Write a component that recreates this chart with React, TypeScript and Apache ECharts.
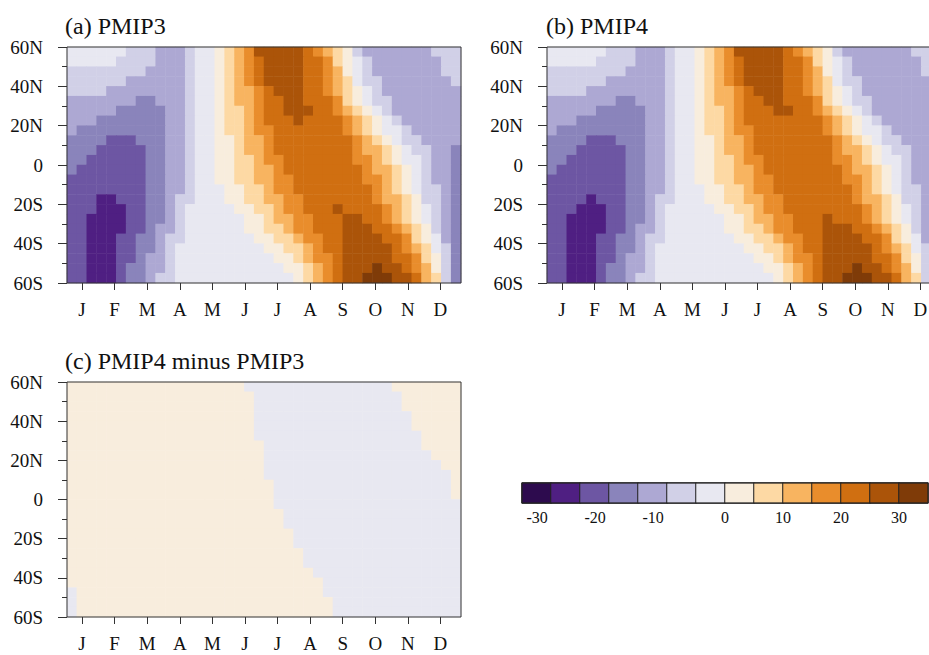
import React, { useEffect, useRef } from 'react';
import * as echarts from 'echarts';

// ---------- data ----------
const MONTHS = ['J', 'F', 'M', 'A', 'M', 'J', 'J', 'A', 'S', 'O', 'N', 'D'];
const MONTH_POS = [1, 2, 3, 4, 5, 6, 7, 8, 9, 10, 11, 12];
const LEVELS = [-30, -25, -20, -15, -10, -5, 0, 5, 10, 15, 20, 25, 30];
const BAND_COLORS = [
  '#2d0b4e', '#4f1f82', '#6d56a3', '#8a84bb', '#ada8d3', '#d1d0e7', '#e8e8f1',
  '#f8eddd', '#fdd9a4', '#f8b460', '#e98d2c', '#d06f11', '#ab5409', '#7f3b08',
];
const CBAR_LABELS = [-30, -20, -10, 0, 10, 20, 30];
const TITLES = ['(a) PMIP3', '(b) PMIP4', '(c) PMIP4 minus PMIP3'];

// Contour band of each cell (hex digit: 0 = below -30 ... d = above 30),
// rows from 60N (top) to 60S (bottom), 40 cells from January to December.
const PMIP3_ROWS = [
  '666666555444566789acccccba98754444444555',
  '666665555444566789abccccbba8765444444455',
  '555555554444566789abccccbba9765444444455',
  '555555444444566789abccccbba9865544444445',
  '5555444444445667899abcccbba9876544444444',
  '4444444334445667899abbccbbba876554444444',
  '4444433333445667889abbcccbba987654444444',
  '4443333333445667889abbbcbbbba98765444444',
  '4333333333445667889aabbbbbbba98766544444',
  '33332223334456677899abbbbbbbba9876554444',
  '33322222334456677899abbbbbbbba9987655443',
  '33222222334456677889aabbbbbbbaa987665443',
  '322222223344566778899abbbbbbbba998765443',
  '222222223344566778899aabbbbbbbaa98765443',
  '222222223344566677889aabbbbbbbba98765543',
  '2221122233455666778899aabbbbbbba99875543',
  '2221112233456666677889aabbbcbbbba9876543',
  '22111122334566666677899aabbbccbba9876543',
  '22111122344566666677889aabbbcccbba987543',
  '221112233455666666677889aabbccccbba87643',
  '2211122334566666666677889abbcccccba98653',
  '2211122344566666666667789aabcccccbba8753',
  '22111233445666666666667789abcccdccba9753',
  '22111233455666666666666789abccdddccb9853',
];

const PMIP4_ROWS = [
  '666666555444566789acccccba98754444444555',
  '666665555444566789abccccbba8765444444455',
  '555555554444566789abccccbba9765444444455',
  '555555444444566789abccccbba9865544444445',
  '5555444444445667899abcccbba9876544444444',
  '4444444334445667899abbccbbba876554444444',
  '4444433333445667889abbbccbba987654444444',
  '4443333333445667889abbbbbbbba98765444444',
  '4333333333445667889aabbbbbbba98766544444',
  '33332223334456677899abbbbbbbba9876554444',
  '33322222334456677899abbbbbbbba9987655443',
  '33222222334456677889aabbbbbbbaa987665443',
  '322222223344566778899abbbbbbbba998765443',
  '222222223344566778899aabbbbbbbaa98765443',
  '222222223344566677889aabbbbbbbba98765543',
  '2222122233455666778899aabbbbbbba99875543',
  '2221112233456666677889aabbbbbbbba9876543',
  '22111122334566666677899aabbbcbbba9876543',
  '22111122344566666677889aabbbcccbba987543',
  '221112233455666666677889aabbccccbba87643',
  '2211122334566666666677889abbcccccba98653',
  '2211122344566666666667789aabcccccbba8753',
  '22111233445666666666667789abcccdccba9753',
  '22111233455666666666666789abccdddccb9853',
];

// Difference panel, as runs of [band, number of cells] per row (60N to 60S).
const DIFF_RUNS: [number, number][][] = [
  [[7, 18], [6, 15], [7, 7]],
  [[7, 19], [6, 15], [7, 6]],
  [[7, 19], [6, 15], [7, 6]],
  [[7, 19], [6, 16], [7, 5]],
  [[7, 19], [6, 16], [7, 5]],
  [[7, 19], [6, 17], [7, 4]],
  [[7, 20], [6, 16], [7, 4]],
  [[7, 20], [6, 17], [7, 3]],
  [[7, 20], [6, 18], [7, 2]],
  [[7, 20], [6, 19], [7, 1]],
  [[7, 21], [6, 18], [7, 1]],
  [[7, 21], [6, 18], [7, 1]],
  [[7, 21], [6, 19]],
  [[7, 22], [6, 18]],
  [[7, 22], [6, 18]],
  [[7, 23], [6, 17]],
  [[7, 23], [6, 17]],
  [[7, 24], [6, 16]],
  [[7, 24], [6, 16]],
  [[7, 25], [6, 15]],
  [[7, 26], [6, 14]],
  [[6, 1], [7, 25], [6, 14]],
  [[6, 1], [7, 26], [6, 13]],
  [[6, 1], [7, 26], [6, 13]],
];

// ---------- helpers ----------
const FONT = '"Liberation Serif", "Times New Roman", serif';
const bandValue = (k: number) =>
  k === 0 ? LEVELS[0] - 2.5 : k === LEVELS.length ? LEVELS[LEVELS.length - 1] + 2.5 : (LEVELS[k - 1] + LEVELS[k]) / 2;

const runsToRows = (runs: [number, number][][]) =>
  runs.map((row) => row.map(([k, n]) => k.toString(16).repeat(n)).join(''));

function cells(rows: string[]) {
  const out: number[][] = [];
  const n = rows.length;
  rows.forEach((row, r) => {
    for (let c = 0; c < row.length; c++) {
      out.push([c, n - 1 - r, bandValue(parseInt(row[c], 16))]);
    }
  });
  return out;
}

const PANELS = [
  { left: 67, top: 47, width: 394, height: 236 },
  { left: 547, top: 47, width: 394, height: 236 },
  { left: 67, top: 382, width: 394, height: 235 },
];
const CBAR = { left: 522, top: 483, width: 406, height: 20 };
const TITLE_POS = [
  { x: 65, y: 25.5 },
  { x: 546, y: 25.5 },
  { x: 65, y: 360.5 },
];
// negative colour-bar labels sit about 14 px left of their box edge in the reference
const NEG_LABEL_SHIFT = 2.4;

export default function App() {
  const ref = useRef<HTMLDivElement>(null);

  useEffect(() => {
    document.body.style.margin = '0';
    const chart = echarts.init(ref.current as HTMLDivElement, undefined, {
      renderer: 'svg',
      width: 929,
      height: 655,
    });

    const panelRows = [PMIP3_ROWS, PMIP4_ROWS, runsToRows(DIFF_RUNS)];
    const nCols = PMIP3_ROWS[0].length;
    const nRows = PMIP3_ROWS.length;
    const colCats = Array.from({ length: nCols }, (_, i) => String(i));
    const rowCats = Array.from({ length: nRows }, (_, i) => String(i));

    const grids: any[] = [];
    const xAxes: any[] = [];
    const yAxes: any[] = [];
    const series: any[] = [];

    // heatmap grids (0..2)
    PANELS.forEach((p, i) => {
      grids.push({ ...p, show: false, containLabel: false, outerBoundsMode: 'none' });
      xAxes.push({ type: 'category', gridIndex: i, data: colCats, show: false });
      yAxes.push({ type: 'category', gridIndex: i, data: rowCats, show: false });
      series.push({
        type: 'heatmap',
        xAxisIndex: i,
        yAxisIndex: i,
        data: cells(panelRows[i]),
        itemStyle: { borderWidth: 0 },
        emphasis: { disabled: true },
        progressive: 0,
      });
    });

    // axis/frame grids (3..5)
    PANELS.forEach((p, i) => {
      const gi = 3 + i;
      grids.push({
        ...p,
        show: true,
        borderColor: '#333',
        borderWidth: 1,
        backgroundColor: 'transparent',
        z: 10,
        containLabel: false,
        outerBoundsMode: 'none',
      });
      xAxes.push({
        type: 'value',
        gridIndex: gi,
        position: 'bottom',
        min: 0.54,
        max: 12.63,
        z: 10,
        axisLine: { show: false, onZero: false },
        splitLine: { show: false },
        axisTick: { show: true, customValues: MONTH_POS, length: 7, lineStyle: { color: '#333', width: 1 } },
        axisLabel: {
          customValues: MONTH_POS,
          formatter: (v: number) => MONTHS[Math.round(v) - 1] ?? '',
          fontFamily: FONT,
          fontSize: 19,
          color: '#111',
          margin: 17,
        },
      });
      yAxes.push({
        type: 'value',
        gridIndex: gi,
        position: 'left',
        min: -60,
        max: 60,
        interval: 20,
        z: 10,
        axisLine: { show: false, onZero: false },
        splitLine: { show: false },
        minorSplitLine: { show: false },
        axisTick: { show: true, length: 9, lineStyle: { color: '#333', width: 1 } },
        minorTick: { show: true, splitNumber: 2, length: 5, lineStyle: { color: '#333', width: 1 } },
        axisLabel: {
          formatter: (v: number) => (v === 0 ? '0' : v > 0 ? `${v}N` : `${-v}S`),
          fontFamily: FONT,
          fontSize: 19,
          color: '#111',
          margin: 24,
        },
      });
    });

    // colour bar (6: boxes, 7: labels)
    grids.push({ ...CBAR, show: true, borderColor: '#222', borderWidth: 1, z: 10, containLabel: false, outerBoundsMode: 'none' });
    xAxes.push({ type: 'category', gridIndex: 6, data: BAND_COLORS.map((_, k) => String(k)), show: false });
    yAxes.push({ type: 'category', gridIndex: 6, data: ['0'], show: false });
    series.push({
      type: 'heatmap',
      xAxisIndex: 6,
      yAxisIndex: 6,
      data: BAND_COLORS.map((_, k) => [k, 0, bandValue(k)]),
      itemStyle: { borderColor: '#222', borderWidth: 1 },
      emphasis: { disabled: true },
    });
    const labelPos = CBAR_LABELS.map((v) => (v < 0 ? v - NEG_LABEL_SHIFT : v));
    grids.push({ ...CBAR, show: false, containLabel: false, outerBoundsMode: 'none' });
    xAxes.push({
      type: 'value',
      gridIndex: 7,
      position: 'bottom',
      min: LEVELS[0] - 5,
      max: LEVELS[LEVELS.length - 1] + 5,
      axisLine: { show: false, onZero: false },
      axisTick: { show: false },
      splitLine: { show: false },
      axisLabel: {
        customValues: labelPos,
        formatter: (v: number) => {
          const i = labelPos.findIndex((p) => Math.abs(p - v) < 1e-6);
          return i >= 0 ? String(CBAR_LABELS[i]) : '';
        },
        fontFamily: FONT,
        fontSize: 16,
        color: '#111',
        margin: 6,
      },
    });
    yAxes.push({ type: 'value', gridIndex: 7, min: 0, max: 1, show: false });

    const pieces = BAND_COLORS.map((color, k) => {
      if (k === 0) return { lt: LEVELS[0], color };
      if (k === LEVELS.length) return { gte: LEVELS[LEVELS.length - 1], color };
      return { gte: LEVELS[k - 1], lt: LEVELS[k], color };
    });

    chart.setOption({
      animation: false,
      backgroundColor: '#ffffff',
      textStyle: { fontFamily: FONT },
      grid: grids,
      xAxis: xAxes,
      yAxis: yAxes,
      visualMap: {
        type: 'piecewise',
        show: false,
        dimension: 2,
        seriesIndex: [0, 1, 2, 3],
        pieces,
      },
      series,
      graphic: TITLES.map((t, i) => ({
        type: 'text',
        x: TITLE_POS[i].x,
        y: TITLE_POS[i].y,
        z: 20,
        style: { text: t, font: `24px ${FONT}`, fill: '#111', verticalAlign: 'middle', align: 'left' },
      })),
    });

    return () => chart.dispose();
  }, []);

  return <div ref={ref} style={{ position: 'absolute', left: 0, top: 0, width: 929, height: 655 }} />;
}
